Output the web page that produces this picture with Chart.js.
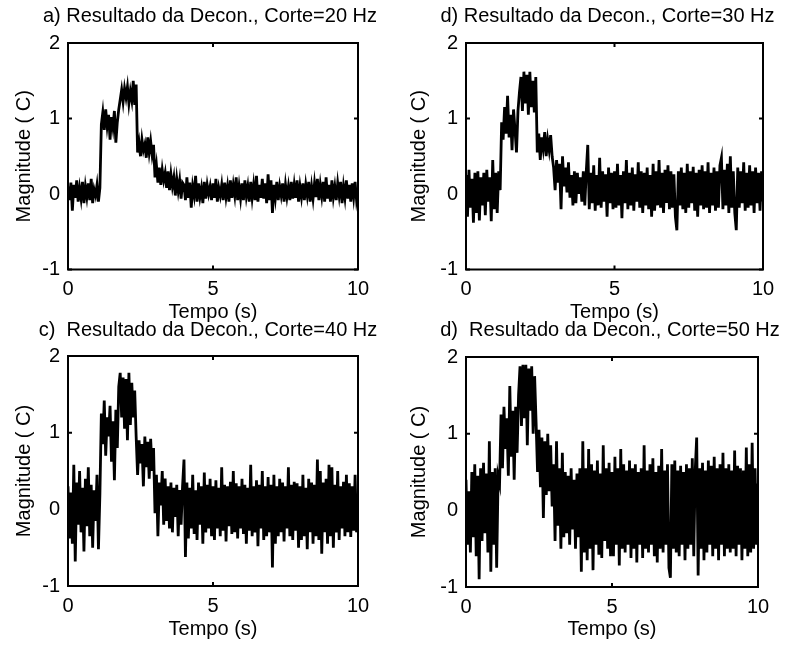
<!DOCTYPE html>
<html>
<head>
<meta charset="utf-8">
<script src="https://cdn.jsdelivr.net/npm/chart.js@4.4.1/dist/chart.umd.min.js"></script>
<style>
  html, body { margin: 0; padding: 0; background: #fff; overflow: hidden; }
  body { width: 791px; height: 648px; position: relative; }
  canvas { position: absolute; }
</style>
</head>
<body>
<canvas id="g20" width="420" height="324" style="left:0px;top:0px"></canvas>
<canvas id="g30" width="405" height="324" style="left:405px;top:0px"></canvas>
<canvas id="g40" width="416" height="331" style="left:0px;top:310px"></canvas>
<canvas id="g50" width="410" height="331" style="left:405px;top:310px"></canvas>
<script>
// eixos
const ticksX = [0, 5, 10];
const ticksY = [-1, 0, 1, 2];
const tituloX = 'Tempo (s)';
const tituloY = 'Magnitude ( C)';

const titulos = [
    'a) Resultado da Decon., Corte=20 Hz',
    'd) Resultado da Decon., Corte=30 Hz',
    'c)  Resultado da Decon., Corte=40 Hz',
    'd)  Resultado da Decon., Corte=50 Hz'
];

// sinais deconvoluidos, amostras de 0 a 10 s
const sinal20 = [
    0.10,-0.08,0.15,-0.22,0.12,-0.05,0.18,-0.10,0.08,-0.06,0.16,-0.12,0.10,-0.04,0.14,-0.08,0.20,-0.12,0.06,-0.02,
    0.12,-0.10,0.08,0.92,1.08,0.85,1.12,0.90,1.05,0.72,1.02,0.88,1.10,0.68,0.95,1.12,1.25,1.38,1.22,1.40,
    1.28,1.42,1.20,1.36,1.24,1.50,1.18,1.45,0.55,0.68,0.50,0.72,0.58,0.66,0.48,0.75,0.55,0.70,0.52,0.65,
    0.22,0.38,0.15,0.35,0.12,0.32,0.18,0.28,0.08,0.30,0.05,0.26,0.10,0.22,-0.02,0.20,0.04,0.18,-0.06,0.15,
    0.12,-0.08,0.22,-0.05,0.15,-0.18,0.10,-0.02,0.24,-0.10,0.14,-0.04,0.08,-0.12,0.16,-0.06,0.12,0.00,0.10,-0.08,
    0.14,-0.05,0.20,-0.10,0.08,-0.02,0.12,-0.08,0.15,-0.04,0.10,-0.10,0.18,-0.05,0.12,-0.02,0.22,-0.08,0.10,-0.06,
    0.14,-0.08,0.18,-0.03,0.10,-0.10,0.16,-0.05,0.12,-0.08,0.24,-0.10,0.12,-0.05,0.20,-0.06,0.14,-0.12,0.26,-0.08,
    0.18,-0.25,0.12,-0.05,0.16,-0.08,0.10,-0.02,0.14,-0.10,0.12,-0.04,0.10,-0.08,0.16,-0.06,0.12,-0.05,0.18,-0.10,
    0.10,-0.04,0.14,-0.08,0.12,-0.02,0.16,-0.10,0.10,-0.06,0.14,-0.04,0.20,-0.08,0.12,-0.03,0.16,-0.10,0.22,-0.06,
    0.12,-0.10,0.18,-0.04,0.10,-0.08,0.14,-0.02,0.16,-0.12,0.10,-0.05,0.18,-0.06,0.12,-0.10,0.14,-0.04,0.16,-0.08,
    0.04
];

const sinal30 = [
    0.25,-0.30,0.32,-0.18,0.20,-0.38,0.28,-0.25,0.30,-0.35,0.22,-0.15,0.28,-0.28,0.32,-0.10,0.22,-0.36,0.45,-0.20,
    0.28,-0.25,0.30,0.05,0.95,0.72,1.15,0.80,1.30,0.75,1.05,0.58,1.12,0.85,0.55,1.10,1.35,1.55,1.10,1.62,
    1.20,1.58,1.05,1.62,1.15,1.50,1.08,1.55,0.55,0.80,0.45,0.75,0.60,0.82,0.50,0.72,0.58,0.78,0.50,0.35,
    0.05,0.45,0.15,0.40,-0.20,0.50,0.10,0.35,0.02,0.42,-0.05,0.25,-0.15,0.30,-0.12,0.28,0.00,0.22,-0.10,0.30,
    -0.15,0.30,0.65,-0.20,0.28,-0.12,0.38,-0.22,0.25,-0.15,0.48,-0.18,0.30,-0.10,0.26,-0.30,0.35,-0.12,0.28,-0.20,
    0.30,-0.18,0.40,-0.15,0.25,-0.32,0.30,-0.12,0.45,-0.20,0.28,-0.15,0.35,-0.22,0.26,-0.10,0.42,-0.18,0.30,-0.25,
    0.28,-0.15,0.35,-0.20,0.25,-0.30,0.40,-0.22,0.30,-0.15,0.45,-0.18,0.28,-0.25,0.32,-0.12,0.38,-0.20,0.30,-0.18,
    0.26,-0.30,-0.48,0.30,-0.15,0.35,-0.20,0.28,-0.25,0.40,-0.18,0.30,-0.12,0.36,-0.22,0.28,-0.30,0.32,-0.15,0.38,
    -0.20,0.30,-0.18,0.42,-0.25,0.28,-0.15,0.35,-0.22,0.30,-0.18,0.38,0.48,-0.20,0.32,-0.15,0.40,-0.25,0.50,-0.18,
    0.30,-0.25,-0.48,0.35,-0.18,0.30,-0.12,0.42,-0.22,0.28,-0.18,0.38,-0.15,0.30,-0.25,0.35,-0.12,0.28,-0.22,0.30,
    -0.10
];

const sinal40 = [
    0.30,-0.38,0.22,-0.45,0.58,-0.68,0.35,-0.20,0.50,-0.30,0.28,-0.55,0.40,-0.22,0.55,-0.35,0.32,-0.50,0.25,-0.15,
    0.45,-0.52,0.20,1.25,0.85,1.42,0.70,1.20,0.95,1.35,0.62,1.15,0.38,1.30,0.80,1.60,1.78,1.20,1.72,1.05,
    1.70,0.90,1.78,1.10,1.65,1.20,1.55,0.95,0.45,0.90,0.60,0.85,0.30,0.95,0.55,0.88,0.40,0.92,0.50,0.80,
    -0.05,0.45,-0.35,0.35,0.05,0.50,-0.20,0.40,-0.15,0.30,-0.25,0.35,-0.30,0.28,-0.10,0.32,-0.35,0.25,-0.20,0.30,
    0.65,-0.62,0.35,-0.38,0.28,-0.25,0.45,-0.32,0.25,-0.40,0.35,-0.20,0.30,-0.45,0.48,-0.30,0.32,-0.25,0.40,-0.35,
    0.30,-0.40,0.38,-0.25,0.28,-0.35,0.55,-0.28,0.32,-0.42,0.30,-0.22,0.36,-0.32,0.50,-0.30,0.34,-0.38,0.30,-0.25,
    0.40,-0.32,0.32,-0.45,0.28,-0.28,0.58,-0.35,0.30,-0.30,0.38,-0.48,0.32,-0.25,0.50,-0.40,0.30,-0.35,0.42,-0.30,
    0.32,-0.76,0.45,-0.45,0.30,-0.35,0.40,-0.30,0.35,-0.42,0.30,-0.25,0.55,-0.35,0.32,-0.40,0.36,-0.28,0.34,-0.50,
    0.30,-0.40,0.45,-0.35,0.28,-0.52,0.40,-0.30,0.35,-0.45,0.32,-0.35,0.65,-0.40,0.50,-0.58,0.35,-0.30,0.40,-0.45,
    0.58,-0.35,0.55,-0.50,0.32,-0.30,0.50,-0.40,0.30,-0.25,0.36,-0.35,0.45,-0.30,0.34,-0.36,0.30,-0.28,0.45,-0.30,
    0.05
];

const sinal50 = [
    0.40,-0.45,0.25,-0.55,0.50,-0.35,0.60,-0.60,0.45,-0.90,0.55,-0.40,0.62,-0.30,0.48,-0.55,0.90,-0.80,0.50,-0.45,
    0.55,-0.75,0.45,0.35,1.25,0.55,1.35,0.80,1.20,0.45,1.62,0.70,1.30,0.40,1.35,0.75,1.50,1.88,1.10,1.90,
    1.20,1.90,0.85,1.85,1.30,1.88,1.00,1.75,1.15,0.50,1.05,0.30,0.95,-0.10,0.90,0.20,1.00,0.25,0.85,0.05,
    0.60,-0.40,0.90,-0.20,0.55,-0.50,0.75,-0.35,0.50,-0.30,0.45,-0.45,0.55,-0.25,0.40,-0.50,0.48,-0.35,0.55,-0.80,
    0.90,-0.55,0.55,-0.65,0.80,-0.50,0.60,-0.78,0.52,-0.45,0.65,-0.58,0.48,-0.62,0.85,-0.40,0.55,-0.50,0.62,-0.60,
    0.50,-0.60,0.70,-0.45,0.55,-0.72,0.80,-0.50,0.60,-0.55,0.52,-0.45,0.65,-0.62,0.55,-0.50,0.60,-0.68,0.50,-0.45,
    0.55,-0.62,0.85,-0.50,0.52,-0.55,0.60,-0.45,0.68,-0.60,0.50,-0.68,0.58,-0.50,0.80,-0.55,0.52,-0.45,0.60,-0.75,
    -0.88,0.60,-0.50,0.65,-0.55,0.52,-0.60,0.58,-0.45,0.50,-0.65,0.60,-0.50,0.55,-0.45,0.68,-0.60,0.52,0.95,-0.85,
    0.55,-0.50,0.62,-0.65,0.52,-0.55,0.65,-0.45,0.58,-0.60,0.70,-0.50,0.55,-0.65,0.60,-0.45,0.75,-0.60,0.55,-0.50,
    0.60,-0.55,0.52,-0.50,0.78,-0.60,0.58,-0.45,0.55,-0.65,0.52,-0.50,0.82,-0.60,0.60,-0.55,0.88,-0.50,0.55,-0.45,
    0.35
];

Chart.defaults.font.family = "'Liberation Sans', Arial, sans-serif";
Chart.defaults.font.size = 20;
Chart.defaults.color = '#000';

// caixa do eixo com marcas para dentro (estilo MATLAB)
const moldura = {
    id: 'moldura',
    afterDatasetsDraw(chart) {
        const { ctx, chartArea: a, scales: { x, y } } = chart;
        ctx.save();
        ctx.strokeStyle = '#000';
        ctx.lineWidth = 2;
        ctx.strokeRect(a.left, a.top, a.right - a.left, a.bottom - a.top);
        ctx.beginPath();
        ticksX.forEach(v => {
            const px = x.getPixelForValue(v);
            ctx.moveTo(px, a.bottom); ctx.lineTo(px, a.bottom - 4);
            ctx.moveTo(px, a.top); ctx.lineTo(px, a.top + 4);
        });
        ticksY.forEach(v => {
            const py = y.getPixelForValue(v);
            ctx.moveTo(a.left, py); ctx.lineTo(a.left + 4, py);
            ctx.moveTo(a.right, py); ctx.lineTo(a.right - 4, py);
        });
        ctx.stroke();
        ctx.restore();
    }
};

// medidas de cada painel: largura do eixo y, espaco a direita, titulo, altura do eixo x
const paineis = [
    { id: 'g20', serie: sinal20, titulo: titulos[0], ladoY: 68, ladoDir: 62, tTop: 4, tBot: 15, altX: 54.5, padY: 12 },
    { id: 'g30', serie: sinal30, titulo: titulos[1], ladoY: 61, ladoDir: 47, tTop: 4, tBot: 15, altX: 54.5, padY: 2 },
    { id: 'g40', serie: sinal40, titulo: titulos[2], ladoY: 68, ladoDir: 58, tTop: 8, tBot: 14, altX: 55, padY: 12 },
    { id: 'g50', serie: sinal50, titulo: titulos[3], ladoY: 61, ladoDir: 57, tTop: 8, tBot: 15, altX: 54, padY: 2 }
];

function criarGrafico(p) {
    const ctx = document.getElementById(p.id).getContext('2d');
    const passo = 10 / (p.serie.length - 1);
    const pontos = p.serie.map((v, i) => ({ x: i * passo, y: v }));
    return new Chart(ctx, {
        type: 'line',
        data: {
            datasets: [{
                data: pontos,
                borderColor: '#000',
                borderWidth: 2.8,
                pointRadius: 0,
                tension: 0,
                fill: false
            }]
        },
        options: {
            animation: false,
            responsive: false,
            layout: { padding: 0 },
            plugins: {
                legend: { display: false },
                tooltip: { enabled: false },
                title: {
                    display: true,
                    text: p.titulo,
                    color: '#000',
                    font: { size: 20, weight: 'normal' },
                    padding: { top: p.tTop, bottom: p.tBot }
                }
            },
            scales: {
                x: {
                    type: 'linear',
                    min: 0, max: 10,
                    afterBuildTicks: s => { s.ticks = ticksX.map(v => ({ value: v })); },
                    afterFit: s => { s.height = p.altX; },
                    ticks: { padding: 8, maxRotation: 0 },
                    grid: { display: false, drawTicks: false },
                    border: { display: false },
                    title: { display: true, text: tituloX, padding: 0 }
                },
                y: {
                    min: -1, max: 2,
                    afterBuildTicks: s => { s.ticks = ticksY.map(v => ({ value: v })); },
                    afterFit: s => { s.width = p.ladoY; },
                    ticks: { padding: 8 },
                    grid: { display: false, drawTicks: false },
                    border: { display: false },
                    title: { display: true, text: tituloY, padding: { top: p.padY, bottom: 0 } }
                },
                y2: {
                    position: 'right',
                    afterFit: s => { s.width = p.ladoDir; },
                    ticks: { display: false },
                    grid: { display: false, drawTicks: false },
                    border: { display: false }
                }
            }
        },
        plugins: [moldura]
    });
}

paineis.forEach(criarGrafico);
</script>
</body>
</html>
